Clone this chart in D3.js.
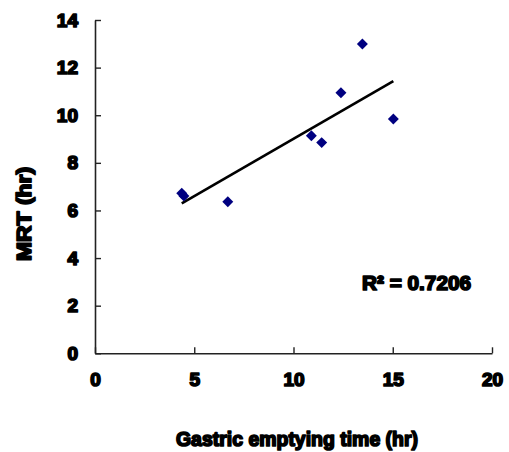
<!DOCTYPE html>
<html>
<head>
<meta charset="utf-8">
<script src="https://cdn.jsdelivr.net/npm/d3@7"></script>
<style>
  html, body { margin: 0; padding: 0; background: #fff; }
  svg { display: block; }
  text { font-family: "Liberation Sans", Arial, sans-serif; font-weight: bold; fill: #000; stroke: #000; stroke-width: 1.7px; stroke-linejoin: round; paint-order: stroke; }
</style>
</head>
<body>
<svg id="chart" width="509" height="452"></svg>
<script>
// Data
const gastricEmptying = [4.37, 4.48, 6.69, 10.90, 11.42, 12.39, 13.47, 15.03];
const mrt            = [6.72, 6.61, 6.37, 9.14, 8.85, 10.94, 12.99, 9.84];
const xTicks = [0, 5, 10, 15, 20];
const yTicks = [0, 2, 4, 6, 8, 10, 12, 14];
const xTitle = "Gastric emptying time (hr)";
const yTitle = "MRT (hr)";
const r2Label = "R² = 0.7206";

const svg = d3.select("#chart");
const margin = { left: 95, top: 20, right: 17, bottom: 99 };
const W = 509, H = 452;

const x = d3.scaleLinear().domain([0, 20]).range([margin.left, W - margin.right]);
const y = d3.scaleLinear().domain([0, 14]).range([H - margin.bottom + 0.3, margin.top]);

// Axes
const gx = svg.append("g")
  .attr("transform", `translate(0,${y(0)})`)
  .call(d3.axisBottom(x).tickValues(xTicks).tickFormat(d3.format("d"))
    .tickSizeInner(-6).tickSizeOuter(0).tickPadding(19));
const gy = svg.append("g")
  .attr("transform", `translate(${x(0)},0)`)
  .call(d3.axisLeft(y).tickValues(yTicks).tickFormat(d3.format("d"))
    .tickSizeInner(-6).tickSizeOuter(0).tickPadding(17));

[gx, gy].forEach(g => {
  g.select(".domain").attr("stroke", "#222").attr("stroke-width", 1.6);
  g.selectAll(".tick line").attr("stroke", "#222").attr("stroke-width", 1.4);
  g.selectAll(".tick text").style("font-size", "19px").attr("fill", "#000");
});

// Linear regression trend line computed from the data
const n = gastricEmptying.length;
const mx = d3.mean(gastricEmptying), my = d3.mean(mrt);
let sxy = 0, sxx = 0;
for (let i = 0; i < n; i++) {
  sxy += (gastricEmptying[i] - mx) * (mrt[i] - my);
  sxx += (gastricEmptying[i] - mx) ** 2;
}
const slope = sxy / sxx, intercept = my - slope * mx;
const [x0, x1] = d3.extent(gastricEmptying);
svg.append("line")
  .attr("x1", x(x0)).attr("y1", y(intercept + slope * x0))
  .attr("x2", x(x1)).attr("y2", y(intercept + slope * x1))
  .attr("stroke", "#000").attr("stroke-width", 2.6);

// Points (diamonds)
const sym = d3.symbol().type(d3.symbolSquare).size(60);
svg.append("g").selectAll("path")
  .data(gastricEmptying.map((v, i) => [v, mrt[i]]))
  .join("path")
  .attr("d", sym)
  .attr("transform", d => `translate(${x(d[0])},${y(d[1])}) rotate(45)`)
  .attr("fill", "#000080");

// R² label
svg.append("text")
  .attr("x", 362).attr("y", 290)
  .attr("textLength", 109).attr("lengthAdjust", "spacingAndGlyphs")
  .style("font-size", "20px")
  .text(r2Label);

// Axis titles
svg.append("text")
  .attr("x", 176).attr("y", 446)
  .attr("textLength", 242).attr("lengthAdjust", "spacingAndGlyphs")
  .style("font-size", "20px")
  .text(xTitle);

svg.append("text")
  .attr("transform", "translate(31,261) rotate(-90)")
  .attr("textLength", 94).attr("lengthAdjust", "spacingAndGlyphs")
  .style("font-size", "20px")
  .text(yTitle);
</script>
</body>
</html>
